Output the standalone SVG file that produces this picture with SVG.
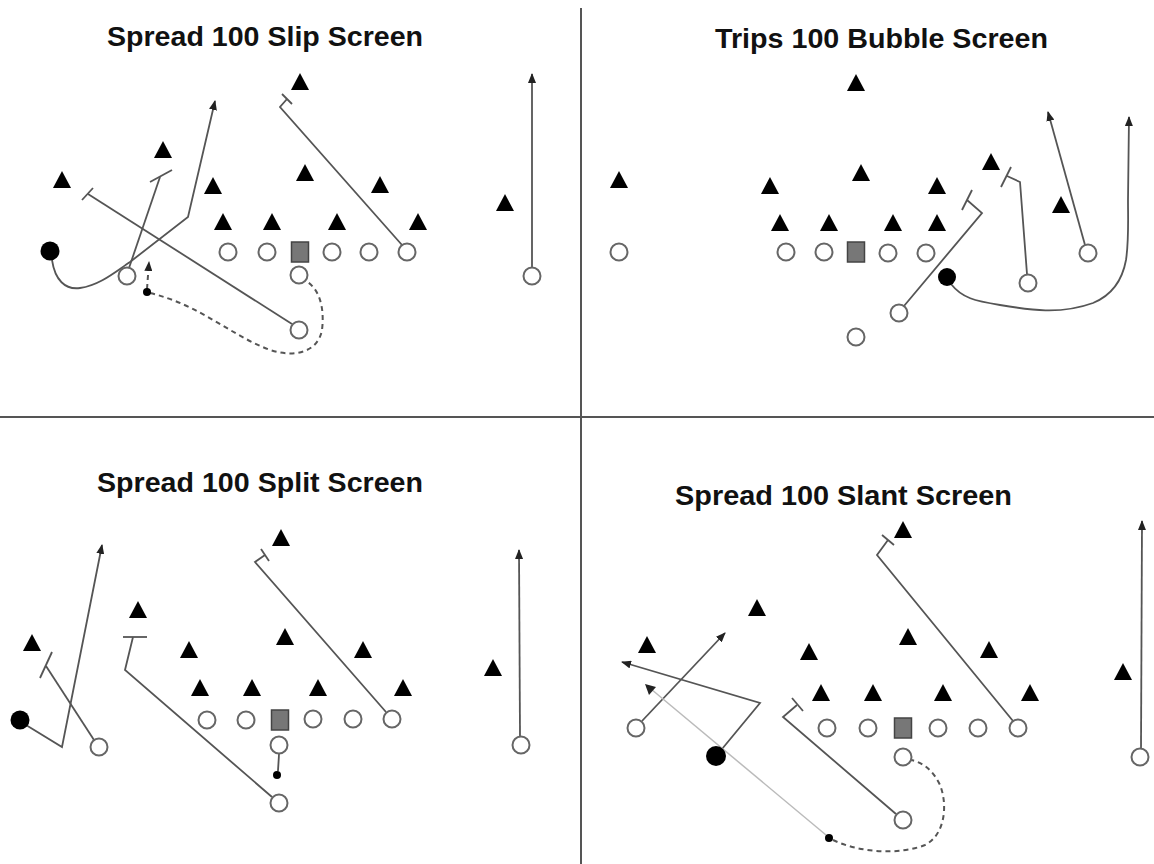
<svg xmlns="http://www.w3.org/2000/svg" width="1154" height="864" viewBox="0 0 1154 864">
<style>
.title{font-family:"Liberation Sans",Arial,sans-serif;font-weight:bold;font-size:28px;fill:#111}
.tri{fill:#000}
.o{fill:#fff;stroke:#666;stroke-width:2}
.qb{fill:#777;stroke:#444;stroke-width:1.5}
.f{fill:#000}
.r{fill:none;stroke:#555;stroke-width:1.8}
.d{fill:none;stroke:#555;stroke-width:2;stroke-dasharray:5,4}
.g{fill:none;stroke:#bbb;stroke-width:1.5}
.div{stroke:#555;stroke-width:2}
</style>
<defs>
<path id="tri" d="M0,-9 L9,8 L-9,8 Z"/>
<circle id="ring" r="8.5"/>
<rect id="sq" x="-8.5" y="-10" width="17" height="20"/>
<marker id="ah" viewBox="0 0 10 8" refX="9" refY="4" markerWidth="10" markerHeight="8" markerUnits="userSpaceOnUse" orient="auto">
<path d="M0,0 L10,4 L0,8 Z" fill="#222"/>
</marker>
</defs>
<rect width="1154" height="864" fill="#fff"/>
<g id="dividers">
<line class="div" x1="581" y1="8" x2="581" y2="864"/>
<line class="div" x1="0" y1="417" x2="1154" y2="417"/>
</g>
<g id="titles">
<text class="title" x="107" y="46" textLength="316" lengthAdjust="spacingAndGlyphs">Spread 100 Slip Screen</text>
<text class="title" x="715" y="48" textLength="333" lengthAdjust="spacingAndGlyphs">Trips 100 Bubble Screen</text>
<text class="title" x="97" y="492" textLength="326" lengthAdjust="spacingAndGlyphs">Spread 100 Split Screen</text>
<text class="title" x="675" y="505" textLength="337" lengthAdjust="spacingAndGlyphs">Spread 100 Slant Screen</text>
</g>
<g id="connectors">
<!-- Q1 -->
<path class="r" d="M292,324 L88,194"/>
<line class="r" x1="82" y1="200" x2="93" y2="188"/>
<path class="r" d="M129,268 L160,177"/>
<line class="r" x1="150" y1="182" x2="172" y2="170"/>
<path class="r" d="M52,260 C55,280 65,290 80,288 C100,285 115,272 130,262 L188,217 L215,101" marker-end="url(#ah)"/>
<path class="r" d="M402,245 L280,107 L287,99"/>
<line class="r" x1="282" y1="94" x2="292" y2="104"/>
<path class="r" d="M532,267 L532,74" marker-end="url(#ah)"/>
<path class="d" d="M147,289 L149,262" marker-end="url(#ah)"/>
<path class="d" d="M150,293 C200,305 230,335 270,350 C295,358 318,352 322,330 C325,305 318,288 306,281"/>
<!-- Q2 -->
<path class="r" d="M904,306 L982,213 L967,200"/>
<line class="r" x1="962" y1="210" x2="972" y2="190"/>
<path class="r" d="M1027,274 L1020,182 L1007,176"/>
<line class="r" x1="1001" y1="187" x2="1011" y2="167"/>
<path class="r" d="M1085,245 L1048,112" marker-end="url(#ah)"/>
<path class="r" d="M951,284 C962,298 975,301 1000,305 C1030,310 1060,315 1093,303 C1110,296 1122,282 1126,260 C1129,240 1128,220 1128,200 L1129,117" marker-end="url(#ah)"/>
<!-- Q3 -->
<path class="r" d="M26,725 L62,747 L102,545" marker-end="url(#ah)"/>
<path class="r" d="M94,740 L46,666"/>
<line class="r" x1="40" y1="678" x2="52" y2="652"/>
<path class="r" d="M386,712 L255,562 L265,555"/>
<line class="r" x1="261" y1="549" x2="269" y2="561"/>
<path class="r" d="M272,797 L125,670 L133,637"/>
<line class="r" x1="123" y1="637" x2="147" y2="637"/>
<path class="r" d="M279,754 L278,771"/>
<path class="r" d="M520,736 L519,550" marker-end="url(#ah)"/>
<!-- Q4 -->
<path class="r" d="M642,721 L725,633" marker-end="url(#ah)"/>
<path class="r" d="M722,749 L760,703 L622,662" marker-end="url(#ah)"/>
<path class="g" d="M826,835 L651,689"/>
<path d="M645,684 L656,687 L649,695 Z" fill="#222"/>
<path class="d" d="M833,840 C860,853 900,855 925,845 C945,835 948,805 940,785 C933,770 922,762 911,760"/>
<path class="r" d="M896,814 L783,717 L797,705"/>
<line class="r" x1="792" y1="698" x2="803" y2="711"/>
<path class="r" d="M1013,721 L877,555 L888,540"/>
<line class="r" x1="882" y1="535" x2="894" y2="545"/>
<path class="r" d="M1141,748 L1142,521" marker-end="url(#ah)"/>
</g>
<!-- Q1 nodes -->
<g id="q1-defense">
<use href="#tri" class="tri" x="300" y="82"/>
<use href="#tri" class="tri" x="163" y="150"/>
<use href="#tri" class="tri" x="62" y="180"/>
<use href="#tri" class="tri" x="213" y="186"/>
<use href="#tri" class="tri" x="305" y="173"/>
<use href="#tri" class="tri" x="380" y="185"/>
<use href="#tri" class="tri" x="223" y="222"/>
<use href="#tri" class="tri" x="272" y="222"/>
<use href="#tri" class="tri" x="337" y="222"/>
<use href="#tri" class="tri" x="418" y="222"/>
<use href="#tri" class="tri" x="505" y="203"/>
</g>
<g id="q1-offense">
<use href="#ring" class="o" x="127" y="276"/>
<use href="#ring" class="o" x="228" y="252"/>
<use href="#ring" class="o" x="267" y="252"/>
<use href="#sq" class="qb" x="300" y="252"/>
<use href="#ring" class="o" x="332" y="252"/>
<use href="#ring" class="o" x="369" y="252"/>
<use href="#ring" class="o" x="407" y="252"/>
<use href="#ring" class="o" x="299" y="275"/>
<use href="#ring" class="o" x="299" y="330"/>
<use href="#ring" class="o" x="532" y="276"/>
<circle class="f" cx="50" cy="251" r="9.5"/>
<circle class="f" cx="147" cy="292" r="4"/>
</g>
<!-- Q2 nodes -->
<g id="q2-defense">
<use href="#tri" class="tri" x="856" y="83"/>
<use href="#tri" class="tri" x="619" y="180"/>
<use href="#tri" class="tri" x="770" y="186"/>
<use href="#tri" class="tri" x="861" y="173"/>
<use href="#tri" class="tri" x="780" y="223"/>
<use href="#tri" class="tri" x="829" y="223"/>
<use href="#tri" class="tri" x="937" y="186"/>
<use href="#tri" class="tri" x="893" y="223"/>
<use href="#tri" class="tri" x="937" y="223"/>
<use href="#tri" class="tri" x="991" y="162"/>
<use href="#tri" class="tri" x="1061" y="205"/>
</g>
<g id="q2-offense">
<use href="#ring" class="o" x="619" y="252"/>
<use href="#ring" class="o" x="786" y="252"/>
<use href="#ring" class="o" x="824" y="252"/>
<use href="#sq" class="qb" x="856" y="252"/>
<use href="#ring" class="o" x="888" y="253"/>
<use href="#ring" class="o" x="926" y="253"/>
<use href="#ring" class="o" x="1028" y="283"/>
<use href="#ring" class="o" x="1088" y="253"/>
<use href="#ring" class="o" x="899" y="313"/>
<use href="#ring" class="o" x="856" y="337"/>
<circle class="f" cx="947" cy="277" r="9"/>
</g>
<!-- Q3 nodes -->
<g id="q3-defense">
<use href="#tri" class="tri" x="32" y="643"/>
<use href="#tri" class="tri" x="138" y="610"/>
<use href="#tri" class="tri" x="189" y="650"/>
<use href="#tri" class="tri" x="200" y="688"/>
<use href="#tri" class="tri" x="252" y="688"/>
<use href="#tri" class="tri" x="281" y="538"/>
<use href="#tri" class="tri" x="285" y="637"/>
<use href="#tri" class="tri" x="363" y="650"/>
<use href="#tri" class="tri" x="318" y="688"/>
<use href="#tri" class="tri" x="403" y="688"/>
<use href="#tri" class="tri" x="493" y="668"/>
</g>
<g id="q3-offense">
<use href="#ring" class="o" x="99" y="747"/>
<use href="#ring" class="o" x="207" y="720"/>
<use href="#ring" class="o" x="246" y="720"/>
<use href="#sq" class="qb" x="280" y="720"/>
<use href="#ring" class="o" x="313" y="719"/>
<use href="#ring" class="o" x="353" y="719"/>
<use href="#ring" class="o" x="392" y="719"/>
<use href="#ring" class="o" x="279" y="745"/>
<use href="#ring" class="o" x="279" y="803"/>
<use href="#ring" class="o" x="521" y="745"/>
<circle class="f" cx="20" cy="720" r="9.5"/>
<circle class="f" cx="277" cy="775" r="4"/>
</g>
<!-- Q4 nodes -->
<g id="q4-defense">
<use href="#tri" class="tri" x="903" y="530"/>
<use href="#tri" class="tri" x="757" y="608"/>
<use href="#tri" class="tri" x="647" y="645"/>
<use href="#tri" class="tri" x="809" y="652"/>
<use href="#tri" class="tri" x="908" y="637"/>
<use href="#tri" class="tri" x="989" y="650"/>
<use href="#tri" class="tri" x="821" y="693"/>
<use href="#tri" class="tri" x="873" y="693"/>
<use href="#tri" class="tri" x="943" y="693"/>
<use href="#tri" class="tri" x="1030" y="693"/>
<use href="#tri" class="tri" x="1123" y="672"/>
</g>
<g id="q4-offense">
<use href="#ring" class="o" x="636" y="728"/>
<use href="#ring" class="o" x="827" y="728"/>
<use href="#ring" class="o" x="868" y="728"/>
<use href="#sq" class="qb" x="903" y="728"/>
<use href="#ring" class="o" x="938" y="728"/>
<use href="#ring" class="o" x="978" y="728"/>
<use href="#ring" class="o" x="1018" y="728"/>
<use href="#ring" class="o" x="903" y="757"/>
<use href="#ring" class="o" x="903" y="820"/>
<use href="#ring" class="o" x="1140" y="757"/>
<circle class="f" cx="716" cy="756" r="10"/>
<circle class="f" cx="829" cy="838" r="4"/>
</g>
</svg>
